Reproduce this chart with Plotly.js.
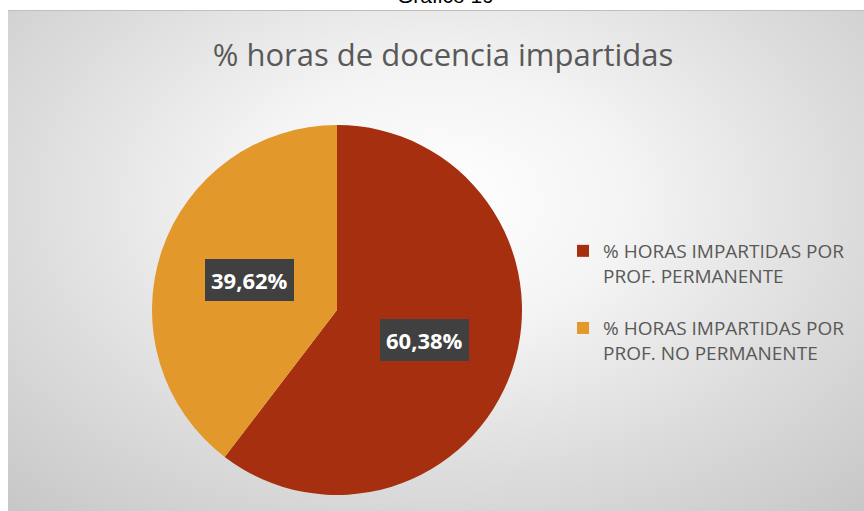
<!DOCTYPE html>
<html>
<head>
<meta charset="utf-8">
<script src="https://cdn.plot.ly/plotly-3.0.1.min.js"></script>
<style>
  html, body { margin: 0; padding: 0; background: #ffffff; }
  #wrap { position: relative; width: 864px; height: 511px; overflow: hidden; }
  #bg { position: absolute; left: 8px; top: 10px; width: 856px; height: 501px;
        border-top: 1px solid #bfbfbf;
        background: radial-gradient(ellipse 75% 85% at 50% 38%, #ffffff 0%, #f4f4f4 30%, #dcdcdc 65%, #c6c6c6 100%); }
  #chart { position: absolute; left: 0; top: 0; width: 864px; height: 511px; }
</style>
</head>
<body>
<div id="wrap">
  <div id="bg"></div>
  <div id="chart"></div>
</div>
<script>
const pageTitle = 'Gráfico 19';
const chartTitle = '% horas de docencia impartidas';
const categories = ['% HORAS IMPARTIDAS POR<br>PROF. PERMANENTE', '% HORAS IMPARTIDAS POR<br>PROF. NO PERMANENTE'];
const values = [60.38, 39.62];
const sliceColors = ['#A52F0E', '#E2982A'];

const W = 864, H = 511;
// pie domain (paper fractions)
const domX = [152 / W, 522 / W];
const domY = [(H - 495) / H, (H - 125) / H];
const cxPx = (domX[0] + domX[1]) / 2 * W;
const cyPx = (domY[0] + domY[1]) / 2 * H;
const Rpx = Math.min((domX[1] - domX[0]) * W, (domY[1] - domY[0]) * H) / 2;

const fmt = v => v.toFixed(2).replace('.', ',') + '%';
const total = values.reduce((a, b) => a + b, 0);
const annotations = [];
let acc = 0;
values.forEach((v, i) => {
  const mid = (acc + v / 2) / total * 2 * Math.PI; // clockwise from 12 o'clock
  acc += v;
  const px = cxPx + 0.5 * Rpx * Math.sin(mid);
  const py = cyPx + 0.5 * Rpx * Math.cos(mid);
  annotations.push({
    x: px / W, y: py / H, xref: 'paper', yref: 'paper',
    xanchor: 'center', yanchor: 'middle',
    text: '<b>' + fmt(v) + '</b>',
    showarrow: false, borderpad: 6, borderwidth: 0,
    font: { family: 'Open Sans, sans-serif', size: 22, color: '#ffffff' },
    bgcolor: '#404040'
  });
});
annotations.push({
  x: 445 / W, y: 1.0, xref: 'paper', yref: 'paper', yanchor: 'bottom', yshift: -9,
  text: pageTitle, showarrow: false,
  font: { family: 'Liberation Sans, sans-serif', size: 21, color: '#000000' }
});

const data = [{
  type: 'pie',
  labels: categories.map(c => c + '<br>&nbsp;'),
  values: values,
  sort: false,
  direction: 'clockwise',
  rotation: 0,
  textinfo: 'none',
  hoverinfo: 'percent',
  marker: { colors: sliceColors, line: { width: 0 } },
  domain: { x: domX, y: domY }
}];

const layout = {
  width: W, height: H,
  margin: { l: 0, r: 0, t: 0, b: 0 },
  paper_bgcolor: 'rgba(0,0,0,0)',
  plot_bgcolor: 'rgba(0,0,0,0)',
  title: {
    text: chartTitle,
    x: 443 / W, xanchor: 'center',
    y: 1 - 55 / H, yanchor: 'middle',
    font: { family: 'Open Sans, sans-serif', size: 31, color: '#595959' }
  },
  showlegend: true,
  legend: {
    x: 563 / W, xanchor: 'left',
    y: 1 - 232 / H, yanchor: 'top',
    valign: 'top',
    bgcolor: 'rgba(0,0,0,0)',
    font: { family: 'Open Sans, sans-serif', size: 19, color: '#595959' },
    itemwidth: 30,
    tracegroupgap: 0
  },
  annotations: annotations
};

Plotly.newPlot('chart', data, layout, { displayModeBar: false, staticPlot: true });
</script>
</body>
</html>
